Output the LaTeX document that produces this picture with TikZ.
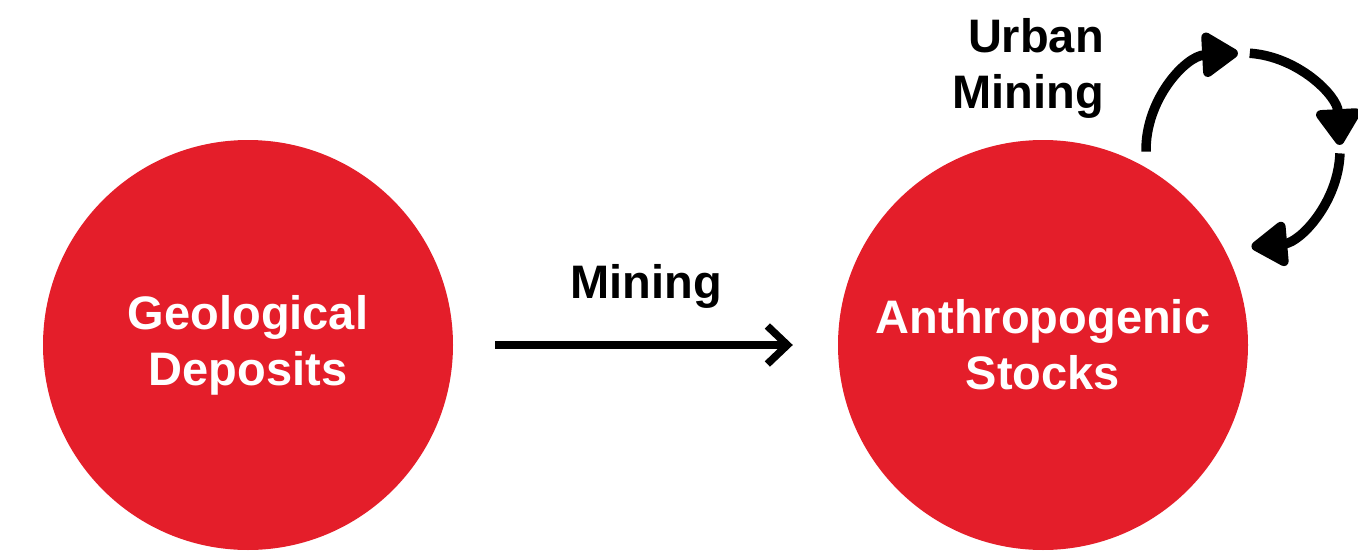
\documentclass[tikz,border=0pt]{standalone}
\usepackage{fontspec}
\setmainfont{Liberation Sans}
\usetikzlibrary{arrows.meta}
\definecolor{dotred}{RGB}{228,30,42}
\tikzset{
  blob/.style={circle, fill=dotred, minimum size=410pt, inner sep=0pt, text=white,
    font=\fontsize{47}{56}\selectfont\bfseries, align=center},
  lbl/.style={font=\fontsize{47}{56}\selectfont\bfseries, text=black, inner sep=0pt},
  cyc/.style={line width=9.5pt, -{Triangle[length=40pt,width=50pt,round]}},
}
\begin{document}
\begin{tikzpicture}[x=1pt,y=1pt]
\useasboundingbox (0,0) rectangle (1358,-554);
\node[blob] (geo) at (248,-345) {Geological\\Deposits};
\node[blob] (anth) at (1043,-345) {Anthropogenic\\Stocks};
\draw[line width=7.5pt, shorten <=42pt, shorten >=45pt, -{Straight Barb[length=20pt,width=38pt]}] (geo.east) -- (anth.west);
\node[lbl, anchor=base] (mining) at (646,-298) {Mining};
\node[lbl, anchor=base east, align=right] (urban) at (1104,-108) {Urban\\Mining};
\coordinate (c) at (1243,-150);
\draw[cyc] ([shift={(181:97)}]c) arc[start angle=181, end angle=93, radius=97];
\draw[cyc] ([shift={(86:97)}]c) arc[start angle=86, end angle=3, radius=97];
\draw[cyc] ([shift={(-2:97)}]c) arc[start angle=-2, end angle=-85, radius=97];
\end{tikzpicture}
\end{document}
